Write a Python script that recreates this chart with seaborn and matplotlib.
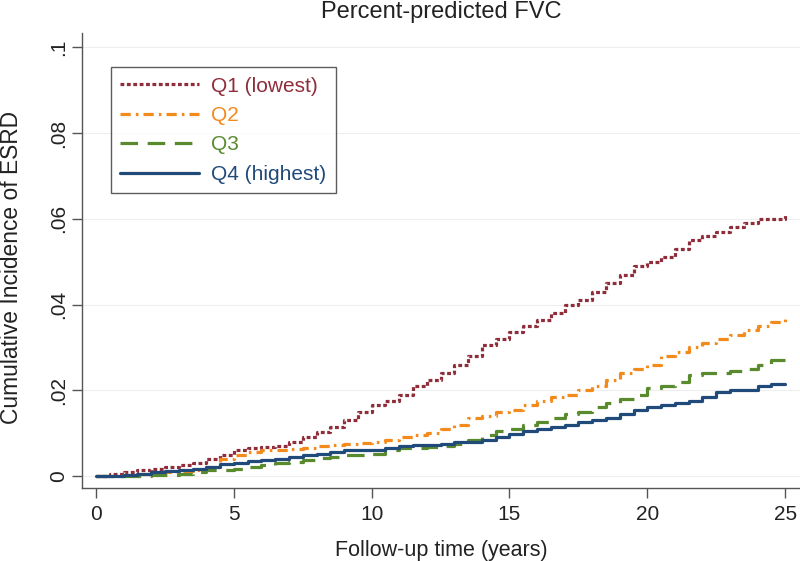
import pandas as pd
import matplotlib.pyplot as plt
import seaborn as sns

# Follow-up time grid (years) and cumulative incidence
years = [0, 0.5, 1, 1.5, 2, 2.5, 3, 3.5, 4, 4.5, 5, 5.5, 6, 6.5, 7, 7.5, 8, 8.5,
         9, 9.5, 10, 10.5, 11, 11.5, 12, 12.5, 13, 13.5, 14, 14.5, 15, 15.5, 16,
         16.5, 17, 17.5, 18, 18.5, 19, 19.5, 20, 20.5, 21, 21.5, 22, 22.5, 23,
         23.5, 24, 24.5, 25]

q1 = [0, 0.0005, 0.001, 0.0013, 0.0017, 0.002, 0.0025, 0.003, 0.004, 0.005,
      0.006, 0.0065, 0.0068, 0.007, 0.008, 0.009, 0.0102, 0.0115, 0.013, 0.015,
      0.0165, 0.0175, 0.019, 0.021, 0.0225, 0.024, 0.026, 0.028, 0.0305, 0.032,
      0.0335, 0.035, 0.0365, 0.038, 0.040, 0.041, 0.043, 0.045, 0.047, 0.049,
      0.050, 0.051, 0.053, 0.055, 0.056, 0.057, 0.058, 0.059, 0.060, 0.060, 0.061]

q2 = [0, 0, 0.0003, 0.0005, 0.0008, 0.001, 0.0012, 0.0015, 0.002, 0.004,
      0.005, 0.0055, 0.006, 0.006, 0.0062, 0.0065, 0.007, 0.0072, 0.0075, 0.0078,
      0.008, 0.0085, 0.009, 0.0095, 0.010, 0.011, 0.012, 0.0135, 0.014, 0.015,
      0.0155, 0.0165, 0.0175, 0.0185, 0.019, 0.020, 0.021, 0.0225, 0.024, 0.025,
      0.026, 0.028, 0.029, 0.030, 0.031, 0.032, 0.033, 0.034, 0.035, 0.036, 0.037]

q3 = [0, 0, 0, 0, 0.0002, 0.0003, 0.0005, 0.001, 0.0013, 0.0015,
      0.0017, 0.002, 0.0025, 0.003, 0.0032, 0.0038, 0.0042, 0.0045, 0.005, 0.005,
      0.0052, 0.006, 0.0065, 0.0065, 0.0068, 0.007, 0.0075, 0.0085, 0.0095, 0.0105,
      0.011, 0.012, 0.0125, 0.0135, 0.0145, 0.015, 0.016, 0.017, 0.018, 0.019,
      0.0205, 0.021, 0.022, 0.0235, 0.024, 0.024, 0.0245, 0.025, 0.026, 0.027, 0.028]

q4 = [0, 0, 0.0002, 0.0005, 0.001, 0.0012, 0.0013, 0.0017, 0.002, 0.0027,
      0.003, 0.0035, 0.0038, 0.004, 0.0045, 0.005, 0.0052, 0.0055, 0.006, 0.006,
      0.006, 0.0065, 0.007, 0.0072, 0.0072, 0.0075, 0.008, 0.008, 0.0085, 0.0092,
      0.0098, 0.0105, 0.011, 0.0115, 0.012, 0.0125, 0.013, 0.0135, 0.0145, 0.0155,
      0.016, 0.0165, 0.017, 0.0175, 0.0185, 0.0195, 0.020, 0.020, 0.021, 0.0215, 0.0215]

groups = ['Q1 (lowest)', 'Q2', 'Q3', 'Q4 (highest)']
colors = ['#8f2d3a', '#f28a1c', '#5a8a2e', '#1f4a7a']
yticks = [0, 0.02, 0.04, 0.06, 0.08, 0.1]
ytick_labels = ['0', '.02', '.04', '.06', '.08', '.1']
xticks = [0, 5, 10, 15, 20, 25]

# long-form table for seaborn
df = pd.concat([
    pd.DataFrame({'time': years, 'cuminc': vals, 'group': g})
    for g, vals in zip(groups, [q1, q2, q3, q4])
])

sns.set_style('white')
plt.rcParams['font.family'] = ['Liberation Sans', 'DejaVu Sans']

fig = plt.figure(figsize=(8, 5.61), dpi=100)
ax = fig.add_axes([0.1025, 0.130, 0.8975, 0.811])

dash_map = {
    'Q1 (lowest)': (1.2, 0.8),
    'Q2': (3.2, 1.6, 0.8, 1.6),
    'Q3': (5.5, 3),
    'Q4 (highest)': '',
}

sns.lineplot(data=df, x='time', y='cuminc', hue='group', style='group',
             hue_order=groups, style_order=groups,
             palette=dict(zip(groups, colors)), dashes=dash_map,
             drawstyle='steps-post', linewidth=2.3, ax=ax, legend=True)

ax.set_xlim(-0.51, 25.54)
ax.set_ylim(-0.0028, 0.1033)
ax.set_xticks(xticks)
ax.set_yticks(yticks)
ax.set_yticklabels(ytick_labels, rotation=90, va='center')
ax.tick_params(axis='both', direction='out', length=7, width=1, color='#555555',
               labelsize=15, labelcolor='#222222', pad=5)
ax.tick_params(axis='y', pad=3)
ax.tick_params(axis='both', which='both', left=True, bottom=True)

for y in yticks:
    ax.axhline(y, color='#eeeeee', linewidth=0.8, zorder=0)

for side in ['top', 'right']:
    ax.spines[side].set_visible(False)
for side in ['left', 'bottom']:
    ax.spines[side].set_color('#555555')
    ax.spines[side].set_linewidth(1.0)

ax.set_xlabel('Follow-up time (years)', fontsize=15.5, color='#222222', labelpad=12)
ax.set_ylabel('')
fig.text(0.0145, 0.524, 'Cumulative Incidence of ESRD', rotation=90,
         ha='center', va='center', fontsize=16.4, color='#222222')
fig.text(0.552, 0.978, 'Percent-predicted FVC', ha='center', va='center',
         fontsize=17, color='#222222')

handles, labels = ax.get_legend_handles_labels()
leg = ax.legend(handles, labels, loc='upper left', bbox_to_anchor=(0.0404, 0.925),
                borderaxespad=0, fontsize=15, frameon=True, fancybox=False,
                handlelength=3.75, handletextpad=0.6, labelspacing=0.5,
                borderpad=0.45, labelcolor='linecolor')
leg.get_frame().set_edgecolor('#333333')
leg.get_frame().set_linewidth(1.0)

fig.savefig('out.png', dpi=100)
